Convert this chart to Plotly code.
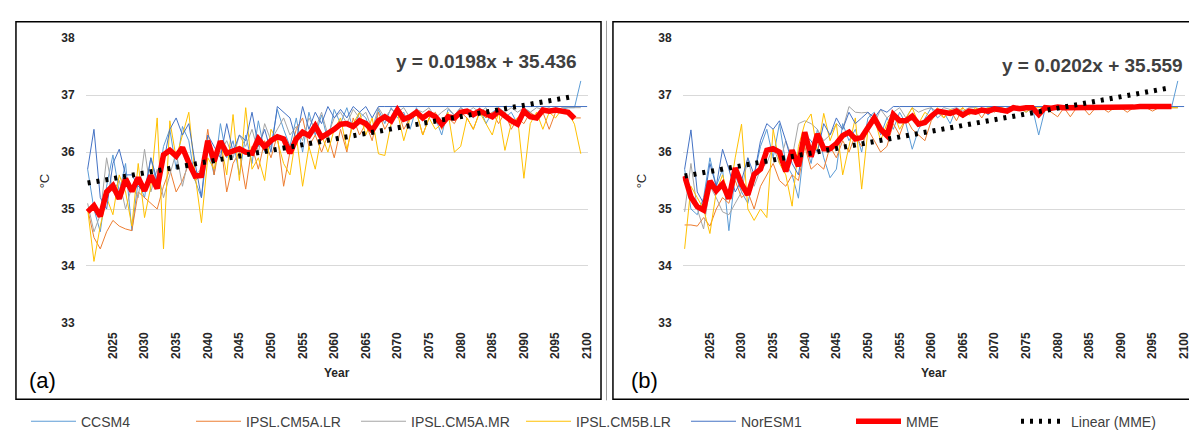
import plotly.graph_objects as go

# ---------------- data ----------------
years_model = list(range(2021, 2100))   # 79 values
years_nor = list(range(2021, 2101))     # 80 values
years_mme = list(range(2021, 2099))     # 78 values
x_ticks = list(range(2025, 2101, 5))
y_ticks = [33, 34, 35, 36, 37, 38]

series_names = ["CCSM4", "IPSL.CM5A.LR", "IPSL.CM5A.MR", "IPSL.CM5B.LR", "NorESM1"]
series_colors = ["#5B9BD5", "#ED7D31", "#A5A5A5", "#FFC000", "#4472C4"]

# ---- panel (a) ----
ccsm4_a = [35.70, 35.00, 34.60, 35.40, 35.95, 35.30, 35.80, 34.62, 35.50, 35.20,
           35.90, 35.40, 36.10, 36.40, 35.70, 36.45, 36.20, 35.50, 35.20, 36.10,
           35.60, 36.50, 35.90, 36.20, 35.60, 36.30, 35.80, 36.55, 36.00, 36.10,
           36.75, 36.40, 36.10, 36.60, 36.00, 36.70, 36.30, 36.65, 36.20, 36.75,
           36.50, 36.78, 36.40, 36.70, 36.60, 36.30, 36.75, 36.50, 36.78, 36.60,
           36.70, 36.40, 36.78, 36.55, 36.70, 36.60, 36.30, 36.75, 36.65, 36.78,
           36.70, 36.60, 36.78, 36.50, 36.70, 36.78, 36.60, 36.70, 36.50, 36.78,
           36.70, 36.60, 36.78, 36.70, 36.78, 36.75, 36.78, 36.78, 37.25]
cm5alr_a = [35.00, 34.50, 34.30, 34.60, 34.80, 34.70, 34.65, 34.62, 35.30, 35.20,
            35.10, 35.00, 35.40, 35.70, 35.30, 35.50, 35.80, 35.50, 35.60, 36.40,
            35.60, 36.20, 35.30, 35.80, 36.00, 35.35, 36.10, 35.70, 36.20, 35.90,
            36.30, 35.40, 36.00, 36.40, 36.60, 36.10, 36.30, 36.00, 36.30, 35.90,
            36.40, 36.00, 36.60, 36.30, 36.50, 36.20, 36.70, 36.40, 36.60, 36.75,
            36.40, 36.60, 36.70, 36.30, 36.60, 36.70, 36.40, 36.60, 36.50, 36.70,
            36.60, 36.40, 36.70, 36.60, 36.70, 36.50, 36.70, 36.40, 36.60, 36.50,
            36.70, 36.60, 36.70, 36.40, 36.70, 36.75, 36.70, 36.60, 36.60]
cm5amr_a = [35.10, 34.60, 34.90, 35.90, 35.30, 35.50, 35.00, 35.40, 35.20, 36.05,
            35.30, 35.70, 35.20, 35.60, 36.00, 35.40, 35.90, 35.60, 35.70, 36.10,
            35.80, 36.00, 36.20, 35.90, 36.30, 36.10, 36.40, 36.00, 36.50, 36.20,
            36.40, 36.60, 36.30, 36.45, 36.20, 36.60, 36.40, 36.70, 36.30, 36.60,
            36.70, 36.50, 36.75, 36.60, 36.70, 36.40, 36.78, 36.60, 36.75, 36.70,
            36.78, 36.60, 36.75, 36.70, 36.78, 36.60, 36.70, 36.78, 36.65, 36.78,
            36.70, 36.78, 36.70, 36.78, 36.60, 36.78, 36.70, 36.78, 36.70, 36.78,
            36.70, 36.78, 36.75, 36.78, 36.70, 36.78, 36.78, 36.78, 36.78]
cm5blr_a = [35.00, 34.08, 34.70, 35.20, 34.90, 35.60, 35.30, 34.70, 35.80, 34.85,
            35.40, 36.60, 34.30, 36.55, 35.90, 36.30, 36.70, 35.60, 34.76, 35.90,
            35.70, 36.20, 35.60, 36.66, 35.50, 36.78, 35.70, 35.90, 35.50, 36.40,
            36.20, 35.80, 35.60, 36.30, 35.40, 36.10, 35.70, 36.30, 36.00, 36.40,
            36.60, 36.05, 36.50, 36.70, 36.30, 36.60, 35.97, 35.94, 36.50, 36.70,
            36.20, 36.60, 36.70, 36.30, 36.60, 36.40, 36.50, 36.70, 36.00, 36.10,
            36.60, 36.40, 36.70, 36.50, 36.30, 36.70, 36.03, 36.50, 36.60, 35.54,
            36.50, 36.70, 36.40, 36.70, 36.60, 36.75, 36.70, 36.49, 35.97]
noresm_a = [35.70, 36.40, 35.20, 35.00, 35.80, 36.05, 35.60, 35.60, 35.40, 35.30,
            35.90, 35.50, 35.80, 36.40, 36.60, 36.30, 36.50, 35.80, 35.20, 36.30,
            36.10, 35.90, 36.50, 36.00, 36.30, 36.20, 36.70, 36.10, 36.40, 36.00,
            36.80, 36.70, 36.60, 36.20, 36.80, 36.40, 36.70, 36.50, 36.80, 36.60,
            36.75, 36.60, 36.80, 36.70, 36.80, 36.60, 36.80, 36.80, 36.80, 36.80,
            36.80, 36.80, 36.80, 36.80, 36.80, 36.80, 36.80, 36.80, 36.80, 36.80,
            36.80, 36.80, 36.80, 36.80, 36.80, 36.80, 36.80, 36.80, 36.80, 36.80,
            36.80, 36.80, 36.80, 36.80, 36.80, 36.80, 36.80, 36.80, 36.80, 36.80]
mme_a = [34.95, 35.06, 34.87, 35.30, 35.41, 35.18, 35.53, 35.31, 35.55, 35.32,
         35.59, 35.36, 35.95, 36.03, 35.93, 36.08, 35.81, 35.58, 35.59, 36.20,
         35.84, 36.19, 35.98, 36.03, 36.06, 36.00, 35.98, 36.23, 36.09, 36.20,
         36.27, 36.23, 35.98, 36.23, 36.35, 36.29, 36.46, 36.26, 36.32, 36.40,
         36.49, 36.50, 36.45, 36.55, 36.50, 36.38, 36.55, 36.62, 36.55, 36.74,
         36.58, 36.62, 36.70, 36.60, 36.68, 36.62, 36.49, 36.62, 36.60, 36.70,
         36.72, 36.66, 36.72, 36.66, 36.62, 36.72, 36.62, 36.55, 36.49, 36.72,
         36.62, 36.60, 36.74, 36.72, 36.74, 36.72, 36.70, 36.59]
slope_a, intercept_a = 0.0198, 35.436

# ---- panel (b) ----
ccsm4_b = [35.70, 35.00, 34.90, 35.20, 35.90, 35.40, 35.70, 34.62, 35.60, 35.30,
           35.10, 35.60, 36.10, 36.40, 35.90, 36.50, 35.80, 35.60, 35.19, 36.20,
           35.80, 36.40, 35.90, 35.55, 35.70, 36.50, 36.20, 36.40, 36.00, 36.60,
           36.70, 36.30, 36.60, 36.40, 36.70, 36.50, 36.05, 36.40, 36.60, 36.78,
           36.60, 36.70, 36.50, 36.78, 36.60, 36.75, 36.70, 36.78, 36.65, 36.78,
           36.70, 36.78, 36.75, 36.78, 36.70, 36.78, 36.30, 36.75, 36.78, 36.78,
           36.78, 36.75, 36.78, 36.78, 36.76, 36.78, 36.78, 36.77, 36.78, 36.78,
           36.78, 36.78, 36.78, 36.78, 36.78, 36.78, 36.78, 36.78, 37.25]
cm5alr_b = [34.72, 34.72, 34.70, 34.85, 34.70, 35.00, 35.20, 35.10, 35.50, 35.20,
            35.30, 35.00, 35.40, 35.60, 35.80, 35.50, 35.40, 35.60, 35.50, 36.10,
            35.70, 35.80, 35.70, 36.10, 35.90, 36.20, 36.00, 36.30, 36.10, 36.40,
            36.20, 36.00, 36.10, 36.50, 36.30, 36.60, 36.40, 36.30, 36.20, 36.55,
            36.70, 36.60, 36.75, 36.55, 36.78, 36.65, 36.75, 36.60, 36.78, 36.70,
            36.78, 36.70, 36.78, 36.75, 36.78, 36.78, 36.60, 36.78, 36.70, 36.62,
            36.78, 36.62, 36.78, 36.78, 36.65, 36.78, 36.78, 36.70, 36.78, 36.78,
            36.70, 36.78, 36.78, 36.78, 36.72, 36.78, 36.78, 36.78, 36.78]
cm5amr_b = [34.95, 35.80, 35.00, 34.65, 35.40, 35.20, 34.95, 34.90, 35.10, 35.30,
            35.90, 35.40, 35.70, 35.80, 36.10, 35.80, 36.20, 35.90, 36.50, 36.55,
            36.50, 36.40, 36.20, 36.30, 36.50, 36.40, 36.80, 36.70, 36.69, 36.70,
            36.50, 36.75, 36.60, 36.70, 36.78, 36.60, 36.78, 36.70, 36.75, 36.78,
            36.70, 36.78, 36.75, 36.78, 36.72, 36.78, 36.78, 36.75, 36.78, 36.78,
            36.78, 36.75, 36.78, 36.78, 36.78, 36.78, 36.72, 36.78, 36.78, 36.78,
            36.78, 36.78, 36.78, 36.78, 36.78, 36.78, 36.78, 36.78, 36.78, 36.78,
            36.78, 36.78, 36.78, 36.78, 36.78, 36.78, 36.78, 36.78, 36.78]
cm5blr_b = [34.30, 35.40, 35.20, 35.00, 34.57, 35.30, 35.60, 35.20, 35.90, 36.49,
            35.00, 34.80, 35.00, 34.85, 36.40, 35.80, 35.60, 35.05, 36.10, 36.50,
            36.67, 36.00, 36.68, 36.20, 36.50, 35.60, 36.10, 36.60, 35.35, 36.40,
            36.60, 36.20, 36.50, 36.70, 36.40, 36.60, 36.78, 36.50, 36.70, 36.60,
            36.78, 36.60, 36.75, 36.70, 36.78, 36.65, 36.78, 36.70, 36.78, 36.75,
            36.78, 36.75, 36.78, 36.78, 36.70, 36.78, 36.78, 36.78, 36.75, 36.78,
            36.78, 36.78, 36.78, 36.78, 36.78, 36.78, 36.78, 36.78, 36.78, 36.78,
            36.78, 36.78, 36.78, 36.78, 36.78, 36.78, 36.78, 36.78, 36.78]
noresm_b = [35.70, 36.39, 35.30, 35.10, 35.80, 35.40, 36.05, 35.70, 35.30, 35.50,
            35.90, 35.60, 36.20, 36.50, 36.40, 36.55, 36.20, 35.80, 35.60, 36.30,
            36.20, 36.00, 36.50, 36.30, 36.60, 36.40, 36.70, 36.50, 36.60, 36.70,
            36.60, 36.75, 36.70, 36.80, 36.80, 36.80, 36.80, 36.80, 36.80, 36.80,
            36.80, 36.80, 36.80, 36.80, 36.80, 36.80, 36.80, 36.80, 36.80, 36.80,
            36.80, 36.80, 36.80, 36.80, 36.80, 36.80, 36.80, 36.80, 36.80, 36.80,
            36.80, 36.80, 36.80, 36.80, 36.80, 36.80, 36.80, 36.80, 36.80, 36.80,
            36.80, 36.80, 36.80, 36.80, 36.80, 36.80, 36.80, 36.80, 36.80, 36.80]
mme_b = [35.58, 35.21, 35.04, 34.98, 35.49, 35.32, 35.44, 35.18, 35.72, 35.44,
         35.25, 35.61, 35.70, 36.03, 36.06, 36.00, 35.66, 36.03, 35.75, 36.35,
         35.92, 36.32, 36.06, 36.06, 36.15, 36.29, 36.35, 36.23, 36.26, 36.43,
         36.60, 36.40, 36.29, 36.66, 36.55, 36.55, 36.63, 36.49, 36.52, 36.63,
         36.72, 36.70, 36.68, 36.72, 36.65, 36.72, 36.70, 36.74, 36.72, 36.76,
         36.74, 36.72, 36.78, 36.76, 36.78, 36.78, 36.66, 36.78, 36.77, 36.79,
         36.78, 36.78, 36.77, 36.79, 36.78, 36.79, 36.78, 36.79, 36.78, 36.79,
         36.79, 36.79, 36.80, 36.79, 36.80, 36.80, 36.80, 36.80]
slope_b, intercept_b = 0.0202, 35.559

panels = [
    dict(models=[ccsm4_a, cm5alr_a, cm5amr_a, cm5blr_a, noresm_a], mme=mme_a,
         slope=slope_a, intercept=intercept_a, xa="x", ya="y", show=True),
    dict(models=[ccsm4_b, cm5alr_b, cm5amr_b, cm5blr_b, noresm_b], mme=mme_b,
         slope=slope_b, intercept=intercept_b, xa="x2", ya="y2", show=False),
]

fig = go.Figure()
for p in panels:
    for name, col, vals in zip(series_names, series_colors, p["models"]):
        xs = years_nor if name == "NorESM1" else years_model
        fig.add_trace(go.Scatter(x=xs, y=vals, mode="lines", name=name,
                                 line=dict(color=col, width=1),
                                 xaxis=p["xa"], yaxis=p["ya"], showlegend=p["show"]))
    fig.add_trace(go.Scatter(x=years_mme, y=p["mme"], mode="lines", name="MME",
                             line=dict(color="#FF0000", width=5.5),
                             xaxis=p["xa"], yaxis=p["ya"], showlegend=p["show"]))
    trend = [p["intercept"] + p["slope"] * (k + 1) for k in range(len(years_mme))]
    fig.add_trace(go.Scatter(x=years_mme, y=trend, mode="lines", name="Linear (MME)",
                             line=dict(color="#000000", width=5, dash="3px,6px"),
                             xaxis=p["xa"], yaxis=p["ya"], showlegend=p["show"]))

W, H = 1197, 440
FONT = "Liberation Sans"
tickfont = dict(family=FONT, size=12, color="#262626", weight="bold")

def px_x(v):
    return v / W

def px_y(v):
    return 1 - v / H

xcommon = dict(range=[2020.68, 2100.15], tickmode="array", tickvals=x_ticks,
               tickangle=-90, tickfont=tickfont, showgrid=False, zeroline=False,
               showline=False, ticks="", ticklabelstandoff=6)
ycommon = dict(range=[33, 38], tickmode="array", tickvals=y_ticks, tickfont=tickfont,
               showgrid=True, gridcolor="#D9D9D9", gridwidth=1, zeroline=False,
               showline=False, ticks="", ticklabelstandoff=10)

dom_y = [px_y(318), px_y(24)]
fig.update_layout(
    width=W, height=H, margin=dict(l=0, r=0, t=0, b=0),
    paper_bgcolor="white", plot_bgcolor="white",
    xaxis=dict(domain=[px_x(78), px_x(583)], anchor="y", **xcommon),
    yaxis=dict(domain=dom_y, anchor="x", **ycommon),
    xaxis2=dict(domain=[px_x(678), px_x(1183)], anchor="y2", **xcommon),
    yaxis2=dict(domain=dom_y, anchor="x2", **ycommon),
    showlegend=True,
    legend=dict(orientation="h", x=0.5, xanchor="center", y=px_y(420), yanchor="middle",
                font=dict(family=FONT, size=14, color="#404040"), itemwidth=45,
                entrywidth=105, entrywidthmode="pixels",
                bgcolor="rgba(0,0,0,0)"),
)

shapes = [
    dict(type="rect", xref="paper", yref="paper", x0=px_x(8), x1=px_x(596),
         y0=px_y(397), y1=px_y(7), line=dict(color="#000000", width=1.5)),
    dict(type="rect", xref="paper", yref="paper", x0=px_x(608), x1=px_x(1194),
         y0=px_y(397), y1=px_y(7), line=dict(color="#000000", width=1.5)),
    dict(type="line", xref="paper", yref="paper", x0=px_x(601.5), x1=px_x(601.5),
         y0=px_y(398), y1=px_y(6), line=dict(color="#9E9E9E", width=1)),
]
fig.update_layout(shapes=shapes)

annots = []
for cx, eq, eqx, eqy, lab, labx in [
    (330.5, f"y = {slope_a}x + {intercept_a}", 574, 48, "(a)", 35),
    (930.5, f"y = {slope_b}x + {intercept_b}", 1183, 52, "(b)", 640),
]:
    annots.append(dict(text=eq, x=px_x(eqx), y=px_y(eqy), xref="paper", yref="paper",
                       xanchor="right", yanchor="middle", showarrow=False,
                       font=dict(family=FONT, size=19, color="#404040", weight="bold")))
    annots.append(dict(text="Year", x=px_x(cx), y=px_y(370), xref="paper", yref="paper",
                       xanchor="center", yanchor="middle", showarrow=False,
                       font=dict(family=FONT, size=12, color="#262626", weight="bold")))
    annots.append(dict(text=lab, x=px_x(labx), y=px_y(377), xref="paper", yref="paper",
                       xanchor="center", yanchor="middle", showarrow=False,
                       font=dict(family=FONT, size=22, color="#000000")))
for cx in (37, 637):
    annots.append(dict(text="°C", x=px_x(cx), y=px_y(171), xref="paper", yref="paper",
                       xanchor="center", yanchor="middle", showarrow=False, textangle=-90,
                       font=dict(family=FONT, size=13, color="#262626")))
fig.update_layout(annotations=annots)

fig.write_html("out.html")
